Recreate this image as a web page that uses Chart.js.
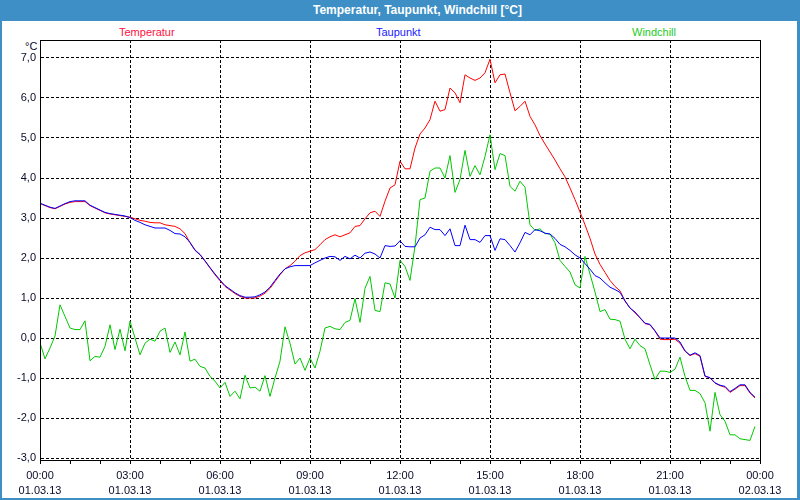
<!DOCTYPE html>
<html>
<head>
<meta charset="utf-8">
<title>Temperatur, Taupunkt, Windchill</title>
<script src="https://cdn.jsdelivr.net/npm/chart.js@4/dist/chart.umd.min.js"></script>
<style>
  html, body { margin: 0; padding: 0; background: #fff; }
  #frame { position: relative; width: 800px; height: 500px; background: #3d8fc6; overflow: hidden;
           font-family: "Liberation Sans", Arial, sans-serif; }
  #inner { position: absolute; left: 2px; top: 21px; right: 3px; bottom: 2px; background: #fff; }
  #title { position: absolute; left: 313px; top: 3px; color: #fff; font-weight: bold; font-size: 12px;
           line-height: 14px; white-space: nowrap; }
  .lbl { position: absolute; font-size: 11px; line-height: 13px; white-space: nowrap; }
  canvas { position: absolute; left: 0; top: 0; }
</style>
</head>
<body>
<div id="frame">
  <div id="inner"></div>
  <div id="title">Temperatur, Taupunkt, Windchill [°C]</div>
  <div class="lbl" style="left:119px; top:26px; color:#ff1040;">Temperatur</div>
  <div class="lbl" style="left:376px; top:26px; color:#1a1aff;">Taupunkt</div>
  <div class="lbl" style="left:632px; top:26px; color:#22cc22;">Windchill</div>
  <div class="lbl" style="left:25px; top:40px; color:#0a0a2a;">°C</div>
  <canvas id="chart" width="800" height="500"></canvas>
</div>
<script>
// 10-minute readings, 00:00 .. 23:50 (one row = 2 hours)
const minutes = Array.from({ length: 144 }, (_, i) => i * 10);

const temperatur = [
  3.36, 3.31, 3.26, 3.23, 3.29, 3.35, 3.39, 3.41, 3.41, 3.41, 3.31, 3.25,
  3.19, 3.13, 3.10, 3.08, 3.06, 3.04, 3.02, 2.98, 2.94, 2.92, 2.89, 2.88,
  2.88, 2.83, 2.81, 2.79, 2.73, 2.61, 2.38, 2.19, 2.08, 1.92, 1.75, 1.58,
  1.43, 1.29, 1.20, 1.11, 1.04, 1.00, 1.00, 1.00, 1.05, 1.12, 1.24, 1.41,
  1.58, 1.73, 1.81, 1.92, 2.06, 2.13, 2.17, 2.21, 2.33, 2.46, 2.53, 2.58,
  2.53, 2.58, 2.63, 2.79, 2.81, 2.98, 3.13, 3.17, 3.04, 3.42, 3.75, 3.83,
  4.42, 4.23, 4.23, 4.75, 5.10, 5.25, 5.46, 5.92, 5.67, 5.71, 6.25, 6.13,
  5.88, 6.58, 6.50, 6.44, 6.50, 6.63, 6.97, 6.38, 6.58, 6.60, 6.13, 5.68,
  5.79, 5.92, 5.54, 5.33, 5.06, 4.85, 4.65, 4.45, 4.23, 4.03, 3.75, 3.46,
  3.15, 2.83, 2.49, 2.10, 1.84, 1.64, 1.44, 1.29, 1.18, 0.92, 0.75, 0.63,
  0.50, 0.36, 0.33, 0.17, -0.03, -0.04, -0.04, -0.03, -0.13, -0.33, -0.44, -0.39,
  -0.46, -0.96, -1.00, -1.13, -1.19, -1.23, -1.36, -1.28, -1.19, -1.19, -1.38, -1.50
];

const taupunkt = [
  3.37, 3.32, 3.27, 3.24, 3.30, 3.36, 3.41, 3.43, 3.43, 3.43, 3.32, 3.26,
  3.20, 3.14, 3.11, 3.09, 3.07, 3.05, 3.01, 2.94, 2.89, 2.83, 2.79, 2.75,
  2.75, 2.75, 2.69, 2.61, 2.60, 2.53, 2.39, 2.20, 2.09, 1.93, 1.76, 1.60,
  1.45, 1.31, 1.22, 1.13, 1.06, 1.02, 1.02, 1.03, 1.08, 1.15, 1.27, 1.44,
  1.60, 1.73, 1.78, 1.81, 1.81, 1.81, 1.81, 1.88, 1.94, 2.00, 2.04, 2.03,
  1.94, 2.04, 1.98, 2.07, 2.00, 2.12, 2.15, 2.10, 2.00, 2.31, 2.29, 2.30,
  2.43, 2.29, 2.28, 2.28, 2.50, 2.58, 2.77, 2.71, 2.71, 2.56, 2.73, 2.31,
  2.31, 2.82, 2.46, 2.46, 2.39, 2.56, 2.56, 2.19, 2.48, 2.46, 2.31, 2.15,
  2.38, 2.64, 2.58, 2.71, 2.68, 2.62, 2.60, 2.49, 2.34, 2.28, 2.19, 2.08,
  2.00, 1.86, 1.72, 1.56, 1.50, 1.38, 1.27, 1.21, 1.14, 0.93, 0.75, 0.65,
  0.51, 0.37, 0.34, 0.18, 0.00, 0.00, 0.00, 0.00, -0.10, -0.32, -0.43, -0.37,
  -0.44, -0.95, -0.99, -1.12, -1.18, -1.21, -1.34, -1.26, -1.17, -1.17, -1.36, -1.48
];

const windchill = [
  -0.12, -0.52, -0.25, 0.05, 0.83, 0.54, 0.25, 0.21, 0.21, 0.43, -0.57, -0.46,
  -0.48, -0.21, 0.33, -0.29, 0.22, -0.32, 0.42, 0.00, -0.42, -0.13, -0.03, -0.08,
  0.17, 0.25, -0.36, -0.10, -0.42, 0.15, -0.58, -0.53, -0.71, -0.75, -0.96, -1.08,
  -1.25, -1.11, -1.46, -1.33, -1.52, -0.93, -1.25, -1.23, -1.33, -0.94, -1.46, -1.00,
  -0.58, 0.28, -0.13, -0.65, -0.50, -0.81, -0.50, -0.75, -0.33, 0.25, 0.29, 0.23,
  0.21, 0.39, 0.44, 0.98, 0.39, 1.24, 1.54, 0.69, 0.66, 1.38, 1.35, 1.00,
  1.94, 1.79, 1.44, 2.30, 3.46, 3.50, 4.17, 4.25, 4.25, 4.00, 4.56, 3.64,
  3.96, 4.69, 4.04, 4.31, 4.08, 4.54, 5.08, 4.21, 4.61, 4.56, 3.79, 3.67,
  3.92, 3.77, 2.83, 2.69, 2.73, 2.61, 2.60, 2.38, 1.94, 1.79, 1.65, 1.33,
  1.25, 2.04, 1.60, 1.15, 0.66, 0.71, 0.47, 0.46, 0.42, -0.03, -0.27, -0.03,
  -0.19, -0.27, -0.67, -1.04, -0.83, -0.83, -0.86, -0.78, -0.48, -0.96, -1.31, -1.31,
  -1.39, -1.62, -2.33, -1.36, -1.92, -2.08, -2.42, -2.42, -2.52, -2.54, -2.56, -2.21
];

// axis ticks
const yTicks = [-3, -2, -1, 0, 1, 2, 3, 4, 5, 6, 7];
const hourTicks = Array.from({ length: 25 }, (_, h) => h * 60);
const tickTimes = ['00:00', '03:00', '06:00', '09:00', '12:00', '15:00', '18:00', '21:00', '00:00'];
const tickDates = ['01.03.13', '01.03.13', '01.03.13', '01.03.13', '01.03.13',
                   '01.03.13', '01.03.13', '01.03.13', '02.03.13'];

const textColor = '#0a0a2a';
const labelFont = { family: 'Liberation Sans', size: 11, lineHeight: '15px' };

// solid frame round the plot area
const framePlugin = {
  id: 'plotFrame',
  afterDraw(chart) {
    const { ctx, chartArea: a } = chart;
    ctx.save();
    ctx.strokeStyle = '#000';
    ctx.lineWidth = 1;
    ctx.strokeRect(a.left + 0.5, a.top + 0.5, a.right - a.left, a.bottom - a.top);
    ctx.restore();
  }
};

const ctx = document.getElementById('chart').getContext('2d');
new Chart(ctx, {
  type: 'line',
  data: {
    labels: minutes,
    datasets: [
      { label: 'Temperatur', data: temperatur, borderColor: '#ff0000', borderWidth: 1, pointRadius: 0, order: 2 },
      { label: 'Taupunkt', data: taupunkt, borderColor: '#0000ff', borderWidth: 1, pointRadius: 0, order: 0 },
      { label: 'Windchill', data: windchill, borderColor: '#00c800', borderWidth: 1, pointRadius: 0, order: 1 }
    ]
  },
  options: {
    responsive: false,
    animation: false,
    layout: { padding: { top: 40, right: 40, left: 0, bottom: 0 } },
    elements: { line: { tension: 0 } },
    plugins: { legend: { display: false }, tooltip: { enabled: false } },
    scales: {
      x: {
        type: 'linear',
        min: 0,
        max: 1440,
        afterBuildTicks: s => { s.ticks = hourTicks.map(v => ({ value: v })); },
        afterFit: s => { s.height = 40; },
        ticks: {
          autoSkip: false,
          maxRotation: 0,
          padding: 4,
          color: textColor,
          font: labelFont,
          callback: v => (v % 180 === 0 ? [tickTimes[v / 180], tickDates[v / 180]] : '')
        },
        grid: {
          color: c => (c.tick && c.tick.value % 180 === 0 ? '#000' : 'rgba(0,0,0,0)'),
          tickColor: '#000',
          tickLength: 4,
          tickBorderDash: []
        },
        border: { color: '#000', dash: [3, 2] }
      },
      y: {
        min: -3.05,
        max: 7.45,
        afterBuildTicks: s => { s.ticks = yTicks.map(v => ({ value: v })); },
        afterFit: s => { s.width = 40; },
        ticks: {
          padding: 4,
          color: textColor,
          font: labelFont,
          callback: v => v.toFixed(1).replace('.', ',')
        },
        grid: { color: '#000', drawTicks: false },
        border: { color: '#000', dash: [3, 2] }
      }
    }
  },
  plugins: [framePlugin]
});
</script>
</body>
</html>
